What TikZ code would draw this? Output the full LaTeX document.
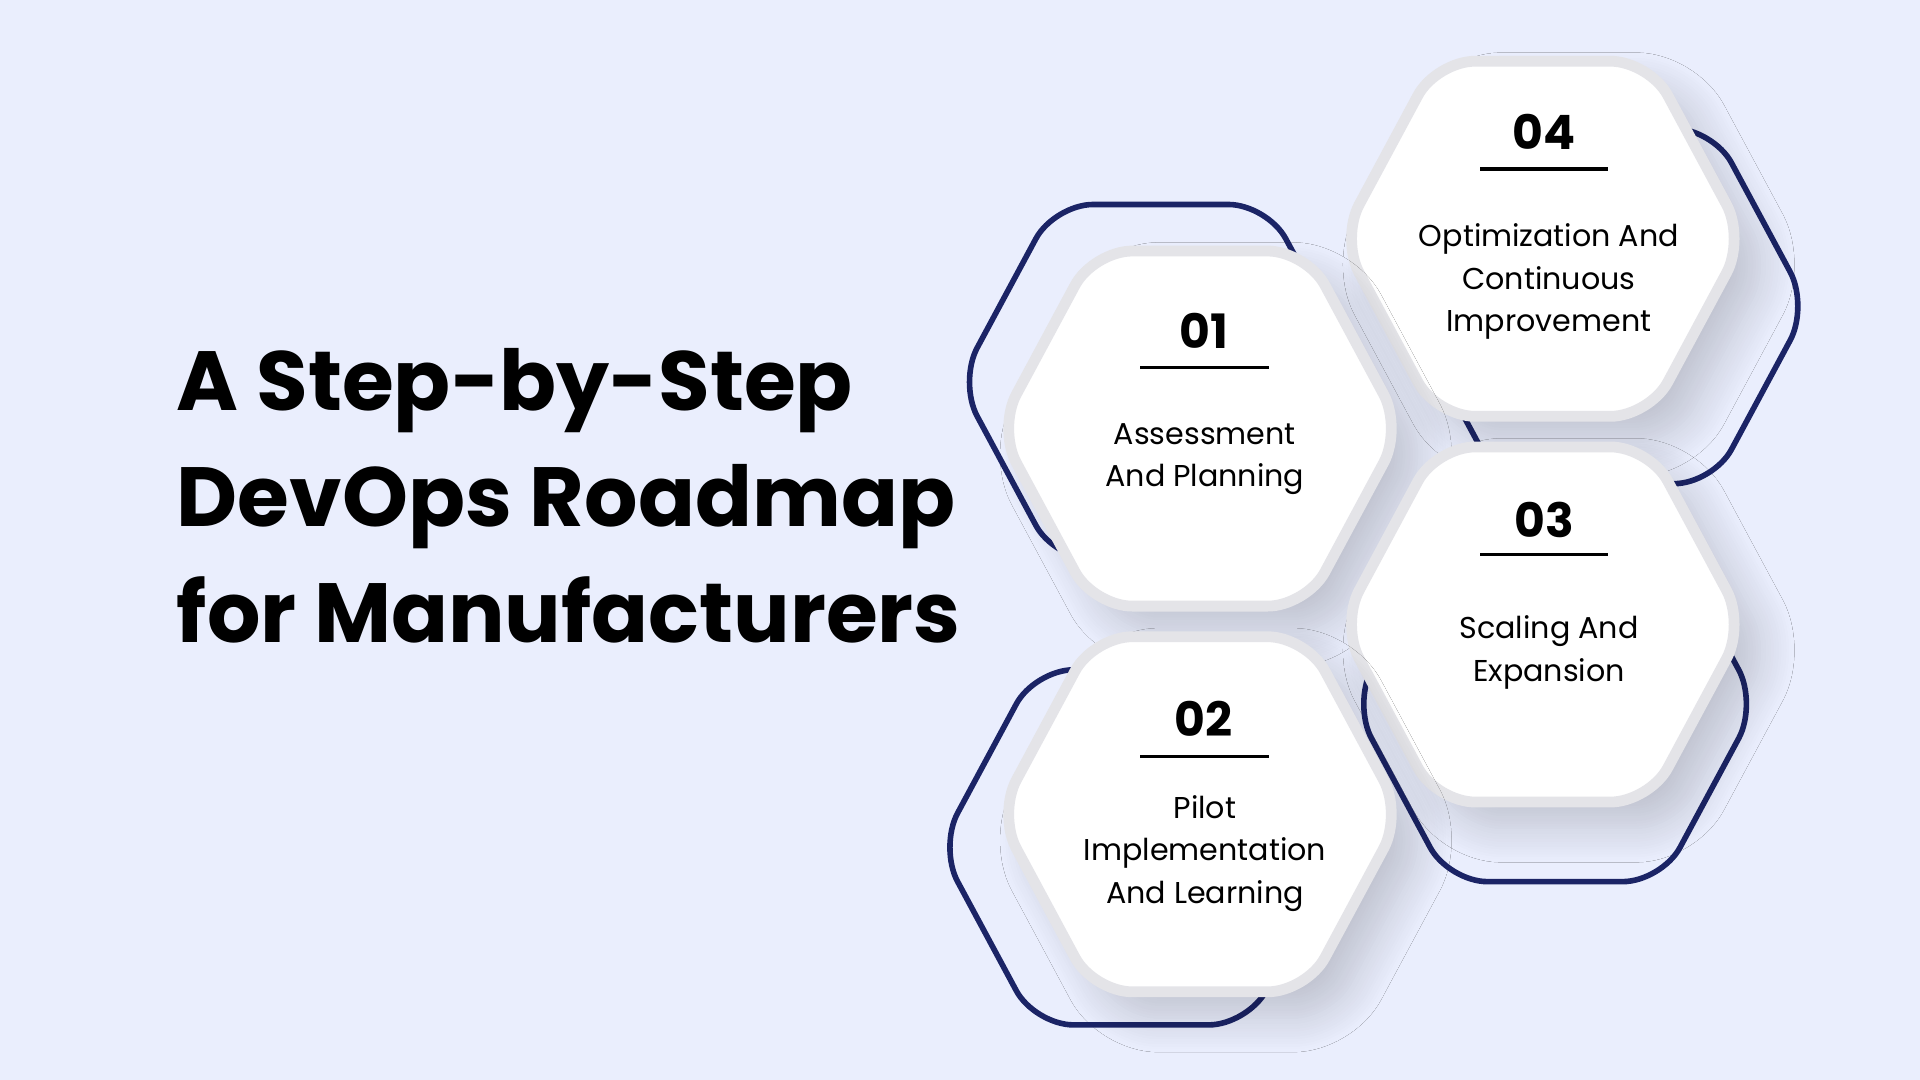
\documentclass[tikz,border=0pt]{standalone}
\usepackage{fontspec}
\setmainfont{Poppins}
\usetikzlibrary{shadows.blur}
\definecolor{bg}{HTML}{EAEEFD}
\definecolor{navy}{HTML}{1B2466}
\definecolor{rim}{HTML}{E4E4E8}
\tikzset{
 hexline/.style={draw=navy,line width=1.3pt,rounded corners=9pt},
 hexwhite/.style={fill=white,draw=rim,line width=2.5pt,rounded corners=9pt,
   blur shadow={shadow xshift=6pt,shadow yshift=-6pt,shadow blur steps=14,shadow blur radius=8pt,shadow opacity=18}},
 num/.style={font=\fontsize{11}{12}\selectfont\bfseries},
 lbl/.style={font=\fontsize{7}{9.9}\selectfont\mdseries,align=center},
 ttl/.style={font=\fontsize{19.5}{27}\selectfont\bfseries,align=left,anchor=north west}
}
\newcommand\hexshape[3]{\path[#1,shift={(#2,#3)}] (-165,0)--(-87,-145)--(87,-145)--(165,0)--(87,145)--(-87,145)--cycle;}
\begin{document}
\begin{tikzpicture}[x=0.01cm,y=-0.01cm]
\fill[bg] (0,0) rectangle (1568,882);
\useasboundingbox (0,0) rectangle (1568,882);
% outlines
\hexshape{hexline}{948}{312}
\hexshape{hexline}{1312}{250}
\hexshape{hexline}{1270}{575}
\hexshape{hexline}{932}{692}
% white hexes
\hexshape{hexwhite}{1260}{195}
\hexshape{hexwhite}{980}{350}
\hexshape{hexwhite}{1260}{510}
\hexshape{hexwhite}{980}{665}
% title
\node[ttl] (title) at (132,272) {A Step-by-Step\\DevOps Roadmap\\for Manufacturers};
% texts
\node[num] (n1) at (983,270) {01};
\draw[line width=0.8pt] (931,300) -- (1036,300);
\node[lbl] (l1) at (984,375) {Assessment\\And Planning};
\node[num] (n2) at (983,587) {02};
\draw[line width=0.8pt] (931,618) -- (1036,618);
\node[lbl] (l2) at (984,697) {Pilot\\Implementation\\And Learning};
\node[num] (n3) at (1261,425) {03};
\draw[line width=0.8pt] (1209,453) -- (1313,453);
\node[lbl] (l3) at (1265,533) {Scaling And\\Expansion};
\node[num] (n4) at (1261,108) {04};
\draw[line width=0.8pt] (1209,138) -- (1313,138);
\node[lbl] (l4) at (1265,230) {Optimization And\\Continuous\\Improvement};
\end{tikzpicture}
\end{document}
